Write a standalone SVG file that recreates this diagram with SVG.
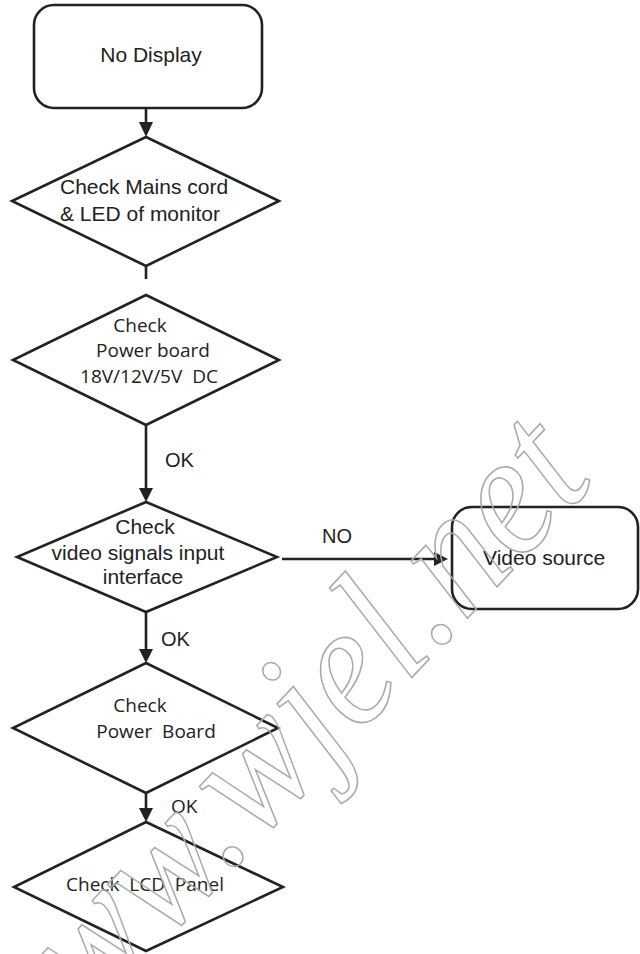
<svg xmlns="http://www.w3.org/2000/svg" width="640" height="954" viewBox="0 0 640 954">
<style>
.shape{fill:#fff;stroke:#222;stroke-width:2.6;stroke-linejoin:miter}
.box{fill:#fff;stroke:#222;stroke-width:2.6}
.line{fill:none;stroke:#222;stroke-width:2.6}
.head{fill:#222;stroke:none}
.h{font-family:"Liberation Sans",Arial,sans-serif;font-size:21px;fill:#222}
.m{font-family:"Open Sans","Noto Sans",sans-serif;font-size:19px;fill:#222;white-space:pre}
.wm{font-family:"Liberation Serif","DejaVu Serif",serif;font-style:italic;font-size:175px;fill:none;stroke:#aaa;stroke-width:1.6}
</style>
<rect width="640" height="954" fill="#fff"/>

<g id="connectors">
  <line class="line" x1="146" y1="108" x2="146" y2="124"/>
  <polygon class="head" points="139,122 153,122 146,137"/>
  <line class="line" x1="146" y1="266" x2="146" y2="279"/>
  <line class="line" x1="146" y1="425" x2="146" y2="490"/>
  <polygon class="head" points="139,488 153,488 146,502"/>
  <text class="h" x="165" y="467" style="font-size:20px">OK</text>
  <line class="line" x1="282" y1="559" x2="440" y2="559"/>
  <polygon class="head" points="434,552 448,559 434,566"/>
  <text class="h" x="322" y="543" style="font-size:20px">NO</text>
  <line class="line" x1="146" y1="612" x2="146" y2="651"/>
  <polygon class="head" points="139,649 153,649 146,663"/>
  <text class="h" x="161" y="646" style="font-size:20px">OK</text>
  <line class="line" x1="146" y1="793" x2="146" y2="810"/>
  <polygon class="head" points="139,808 153,808 146,822"/>
  <text class="m" x="171" y="813">OK</text>
</g>

<g id="node-no-display">
  <rect class="box" x="34" y="5" width="228" height="103" rx="20" ry="20"/>
  <text class="h" x="151" y="62" text-anchor="middle">No Display</text>
</g>

<g id="node-check-mains">
  <polygon class="shape" points="146,137 279,201 146,266 12,201"/>
  <text class="h" x="60" y="194">Check Mains cord</text>
  <text class="h" x="60" y="221">&amp; LED of monitor</text>
</g>

<g id="node-check-power">
  <polygon class="shape" points="146,295 279,360 146,425 13,360"/>
  <text class="m" x="140" y="332" text-anchor="middle">Check</text>
  <text class="m" x="153" y="357" text-anchor="middle">Power board</text>
  <text class="m" x="149" y="383" text-anchor="middle">18V/12V/5V  DC</text>
</g>

<g id="node-check-video">
  <polygon class="shape" points="146,502 277,557 146,612 17,557"/>
  <text class="h" x="145" y="534" text-anchor="middle">Check</text>
  <text class="h" x="138" y="560" text-anchor="middle">video signals input</text>
  <text class="h" x="143" y="584" text-anchor="middle">interface</text>
</g>

<g id="node-video-source">
  <rect class="box" x="452" y="507" width="186" height="102" rx="20" ry="20"/>
  <text class="h" x="483" y="565">Video source</text>
</g>

<g id="node-check-power-board">
  <polygon class="shape" points="146,663 278,728 146,793 13,728"/>
  <text class="m" x="140" y="712" text-anchor="middle">Check</text>
  <text class="m" x="156" y="738" text-anchor="middle">Power  Board</text>
</g>

<g id="node-check-lcd">
  <polygon class="shape" points="146,822 283,887 146,951 14,887"/>
  <text class="m" x="145" y="891" text-anchor="middle">Check  LCD  Panel</text>
</g>

<text class="wm" transform="translate(18,1097) rotate(-46.8)" textLength="845" lengthAdjust="spacingAndGlyphs">www.wjel.net</text>
</svg>
